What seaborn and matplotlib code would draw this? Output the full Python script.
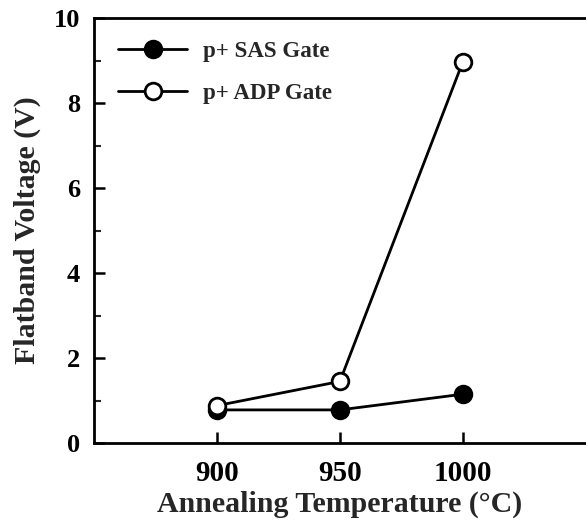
import matplotlib
matplotlib.use("Agg")
import matplotlib.pyplot as plt
import seaborn as sns
import pandas as pd
from matplotlib.ticker import MultipleLocator

temperature = [900, 950, 1000]
sas_gate = [0.78, 0.78, 1.15]
adp_gate = [0.88, 1.45, 8.98]
series_names = ["p+ SAS Gate", "p+ ADP Gate"]

sns.set_theme(style="ticks")
plt.rcParams["font.family"] = ["Liberation Serif", "DejaVu Serif"]
plt.rcParams["font.weight"] = "bold"

df = pd.DataFrame({
    "T": temperature * 2,
    "V": sas_gate + adp_gate,
    "gate": [series_names[0]] * 3 + [series_names[1]] * 3,
})

fig = plt.figure(figsize=(5.86, 5.2), dpi=100)
ax = fig.add_axes([0.160, 0.148, 0.84, 0.817])

styles = {
    series_names[0]: dict(marker="o", markerfacecolor="black"),
    series_names[1]: dict(marker="o", markerfacecolor="white"),
}
for name in series_names:
    sub = df[df["gate"] == name]
    sns.lineplot(data=sub, x="T", y="V", ax=ax, color="black", linewidth=2,
                 markersize=12, markeredgecolor="black", markeredgewidth=2,
                 label=name, **styles[name])

ax.set_xlim(850, 1050)
ax.set_ylim(0, 10)
ax.set_xticks(temperature)
ax.set_xticklabels([str(t) for t in temperature])
ax.yaxis.set_major_locator(MultipleLocator(2))
ax.yaxis.set_minor_locator(MultipleLocator(1))

for side in ["left", "bottom", "top"]:
    ax.spines[side].set_linewidth(2)
    ax.spines[side].set_color("black")
ax.spines["right"].set_visible(False)

ax.tick_params(axis="both", which="major", direction="in", length=8, width=1.8,
               colors="black", pad=10)
ax.tick_params(axis="y", which="major", labelsize=19)
ax.tick_params(axis="y", which="minor", direction="in", length=5, width=1.5)
ax.tick_params(axis="x", which="major", pad=12, labelsize=21)
for lab in ax.get_xticklabels() + ax.get_yticklabels():
    lab.set_fontweight("bold")

ax.set_xlabel("Annealing Temperature (°C)", fontsize=21.5, fontweight="bold", labelpad=3)
ax.set_ylabel("Flatband Voltage (V)", fontsize=21.5, fontweight="bold", labelpad=9)

leg = ax.legend(loc="upper left", bbox_to_anchor=(0.008, 0.995), frameon=False,
                handlelength=3.0, handletextpad=0.7, labelspacing=0.9,
                prop={"weight": "bold", "size": 16.5})

fig.savefig("out.png", dpi=100, facecolor="white")
